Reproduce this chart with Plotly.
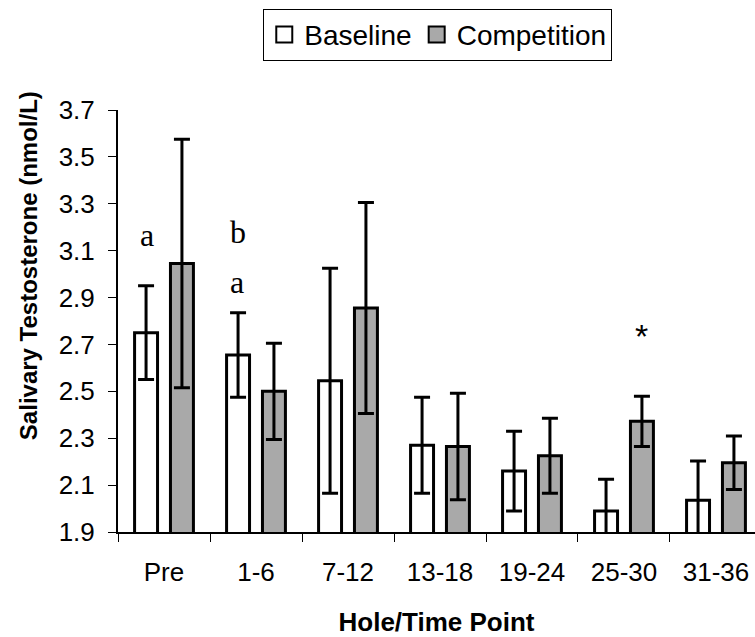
import plotly.graph_objects as go

categories = ["Pre", "1-6", "7-12", "13-18", "19-24", "25-30", "31-36"]
baseline = [2.75, 2.655, 2.545, 2.27, 2.16, 1.99, 2.035]
baseline_err = [0.20, 0.18, 0.48, 0.205, 0.17, 0.135, 0.168]
competition = [3.045, 2.50, 2.855, 2.265, 2.225, 2.372, 2.195]
competition_err = [0.53, 0.205, 0.45, 0.227, 0.16, 0.107, 0.114]

y_ticks = [1.9, 2.1, 2.3, 2.5, 2.7, 2.9, 3.1, 3.3, 3.5, 3.7]

series_names = ["Baseline", "Competition"]
series_colors = ["white", "#a9a9a9"]

# significance labels: (category, series offset px, y value, text, font)
labels = [
    ("Pre", -17, 3.167, "a", "serif"),
    ("1-6", -18, 3.18, "b", "serif"),
    ("1-6", -19, 2.966, "a", "serif"),
    ("25-30", 18, 2.735, "*", "sans"),
]

SANS = "Liberation Sans, Arial, sans-serif"
SERIF = "Liberation Serif, Times New Roman, serif"

fig = go.Figure()
for name, vals, errs, col in zip(series_names, [baseline, competition],
                                 [baseline_err, competition_err], series_colors):
    fig.add_trace(go.Bar(
        name=name, x=categories, y=vals, showlegend=False,
        marker=dict(color=col, line=dict(color="black", width=3)),
        error_y=dict(type="data", array=errs, visible=True,
                     color="black", thickness=3, width=8),
    ))
# legend-only entries with larger square symbols
for name, col in zip(series_names, series_colors):
    fig.add_trace(go.Scatter(
        name=name, x=[None], y=[None], mode="markers", showlegend=True,
        marker=dict(symbol="square", size=16, color=col,
                    line=dict(color="black", width=2)),
    ))

for cat, dx, yv, txt, fam in labels:
    fig.add_annotation(
        x=cat, y=yv, xref="x", yref="y", text=txt, showarrow=False,
        xshift=dx,
        font=dict(family=SERIF if fam == "serif" else SANS,
                  size=32 if fam == "serif" else 34, color="black"),
    )

# y-axis title (placed like the original, above centre)
fig.add_annotation(
    x=28, xref="paper", xanchor="center", y=0.63, yref="paper", yanchor="middle",
    text="<b>Salivary Testosterone (nmol/L)</b>", textangle=-90, showarrow=False,
    font=dict(size=24, family=SANS, color="black"),
)
fig.layout.annotations[-1].update(x=(28 - 118) / 637)

fig.update_layout(
    width=755, height=637,
    margin=dict(l=118, r=0, t=110, b=105),
    paper_bgcolor="white", plot_bgcolor="white",
    barmode="group", bargap=0.22, bargroupgap=0.36,
    font=dict(family=SANS, color="black"),
    showlegend=True,
    legend=dict(
        orientation="h", x=0.502, xanchor="center", y=1.24, yanchor="top",
        bordercolor="black", borderwidth=1, bgcolor="white",
        font=dict(size=28, family=SANS, color="black"),
        itemsizing="trace", itemwidth=30, tracegroupgap=0,
    ),
    xaxis=dict(
        type="category", range=[-0.5, 6.424],
        showline=True, linecolor="black", linewidth=2,
        ticks="outside", tickson="boundaries", ticklen=8, tickwidth=1,
        tickcolor="black", showgrid=False,
        tickfont=dict(size=26, family=SANS, color="black"),
        ticklabelstandoff=16,
        title=dict(text="<b>Hole/Time Point</b>", standoff=30,
                   font=dict(size=26, family=SANS, color="black")),
    ),
    yaxis=dict(
        range=[1.9, 3.7], tickvals=y_ticks, tickformat=".1f",
        showline=True, linecolor="black", linewidth=2,
        ticks="outside", ticklen=8, tickwidth=1, tickcolor="black",
        showgrid=False, zeroline=False,
        tickfont=dict(size=26, family=SANS, color="black"),
        ticklabelstandoff=8,
    ),
)

fig.write_html("out.html")
